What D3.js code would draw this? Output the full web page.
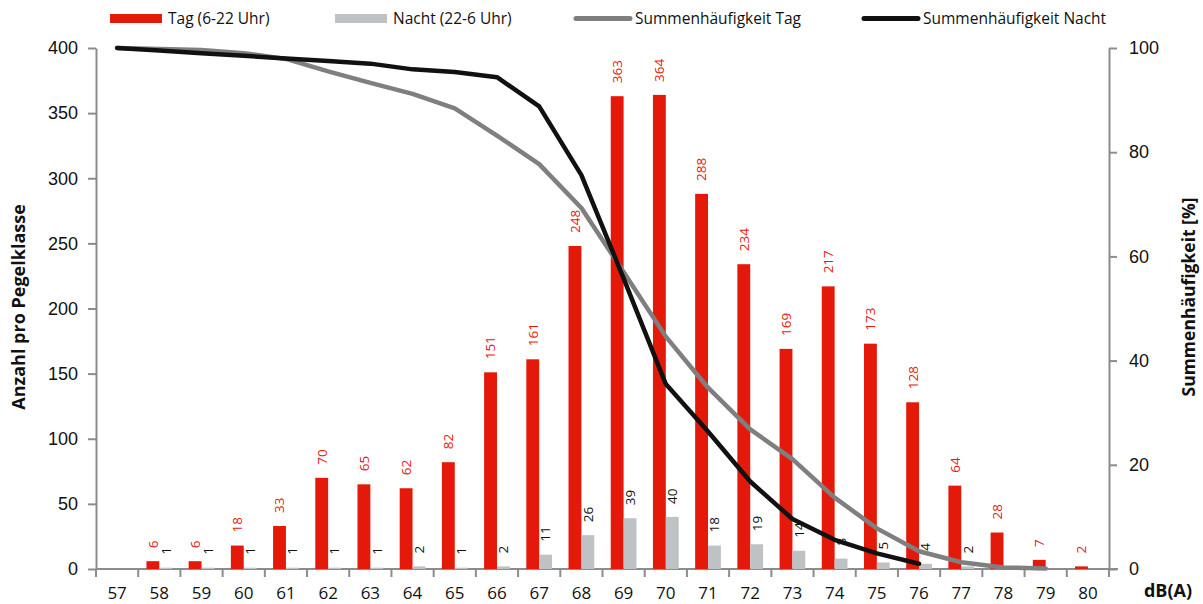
<!DOCTYPE html>
<html><head><meta charset="utf-8">
<script src="https://cdn.jsdelivr.net/npm/d3@7"></script>
<style>
html,body{margin:0;padding:0;background:#fff;}
svg{display:block;font-family:"Open Sans","Liberation Sans",sans-serif;}
</style></head>
<body>
<svg id="c" width="1203" height="604"></svg>
<script>
// ---- data ----
const categories = ["57","58","59","60","61","62","63","64","65","66","67","68","69","70","71","72","73","74","75","76","77","78","79","80"];
const tagValues   = [null,6,6,18,33,70,65,62,82,151,161,248,363,364,288,234,169,217,173,128,64,28,7,2];
const nachtValues = [null,1,1,1,1,1,1,2,1,2,11,26,39,40,18,19,14,8,5,4,2,null,null,null];
const sumTag   = [100,99.8,99.6,99.0,97.9,95.5,93.3,91.2,88.4,83.2,77.7,69.3,57.0,44.6,34.8,26.8,21.1,13.7,7.8,3.4,1.3,0.3,0.1];
const sumNacht = [100,99.5,99.0,98.5,98.0,97.5,97.0,95.9,95.4,94.4,88.8,75.6,55.8,35.5,26.4,16.8,9.6,5.6,3.0,1.0];
const leftTicks  = [0,50,100,150,200,250,300,350,400];
const rightTicks = [0,20,40,60,80,100];
const legendLabels = ["Tag (6-22 Uhr)","Nacht (22-6 Uhr)","Summenhäufigkeit Tag","Summenhäufigkeit Nacht"];

const C_RED = "#e5190a", C_BAR_GRAY = "#bec2c4", C_LINE_GRAY = "#7f7f7f", C_BLACK = "#111111", C_AXIS = "#8c8c8c";

const svg = d3.select("#c");
const X0 = 96, X1 = 1109, Y0 = 569, Y1 = 48;

const x = d3.scaleBand().domain(categories).range([X0, X1]).padding(0);
const xi = d3.scaleBand().domain(["t","n"]).range([0, x.bandwidth()]).paddingInner(0).paddingOuter(0.64);
const yL = d3.scaleLinear().domain([0,400]).range([Y0, Y1]);
const yR = d3.scaleLinear().domain([0,100]).range([Y0, Y1]);

// ---- axes ----
const axisStyle = g => {
  g.selectAll(".domain").attr("stroke", C_AXIS).attr("stroke-width", 2);
  g.selectAll(".tick line").attr("stroke", C_AXIS).attr("stroke-width", 2);
  g.selectAll(".tick text").attr("fill", "#111").attr("font-size", 18);
};
svg.append("g").attr("transform", `translate(${X0},0)`)
  .call(d3.axisLeft(yL).tickValues(leftTicks).tickSize(8).tickSizeOuter(0).tickPadding(10))
  .call(axisStyle);
svg.append("g").attr("transform", `translate(${X1},0)`)
  .call(d3.axisRight(yR).tickValues(rightTicks).tickSize(8).tickSizeOuter(0).tickPadding(12))
  .call(axisStyle);

// bottom axis: ticks at band boundaries, labels centered in band
const xa = svg.append("g").attr("class","xaxis");
xa.append("line").attr("x1", X0).attr("x2", X1 + 9).attr("y1", Y0).attr("y2", Y0)
  .attr("stroke", C_AXIS).attr("stroke-width", 2);
const bounds = categories.map(c => x(c)).concat([X1]);
xa.selectAll("line.tk").data(bounds).join("line").attr("class","tk")
  .attr("x1", d => d).attr("x2", d => d).attr("y1", Y0).attr("y2", Y0 + 8)
  .attr("stroke", C_AXIS).attr("stroke-width", 2);
xa.selectAll("text").data(categories).join("text")
  .attr("x", d => x(d) + x.bandwidth()/2).attr("y", 598.5)
  .attr("text-anchor","middle").attr("font-size",17).attr("fill","#111").text(d => d);

// ---- bars ----
const rows = categories.map((c,i) => ({c, t: tagValues[i], n: nachtValues[i]}));
const g = svg.append("g");
g.selectAll("rect.t").data(rows.filter(d => d.t != null)).join("rect").attr("class","t")
  .attr("x", d => x(d.c) + xi("t")).attr("width", xi.bandwidth())
  .attr("y", d => yL(d.t)).attr("height", d => Y0 - yL(d.t)).attr("fill", C_RED);
g.selectAll("rect.n").data(rows.filter(d => d.n != null)).join("rect").attr("class","n")
  .attr("x", d => x(d.c) + xi("n")).attr("width", xi.bandwidth())
  .attr("y", d => yL(d.n)).attr("height", d => Y0 - yL(d.n)).attr("fill", C_BAR_GRAY);

// bar labels (rotated)
const lbl = (sel, key, color) => sel
  .attr("transform", d => `translate(${x(d.c) + xi(key) + xi.bandwidth()/2},${yL(d[key]) - 13}) rotate(-90)`)
  .attr("text-anchor","start").attr("dy","0.36em").attr("font-size",13.5).attr("fill",color)
  .text(d => d[key]);
g.selectAll("text.tl").data(rows.filter(d => d.t != null)).join("text").attr("class","tl").call(lbl, "t", C_RED);
g.selectAll("text.nl").data(rows.filter(d => d.n != null)).join("text").attr("class","nl").call(lbl, "n", "#111");

// ---- lines ----
const line = d3.line().x(d => x(d.c) + x.bandwidth()/2).y(d => yR(d.v)).curve(d3.curveLinear);
svg.append("path").datum(sumTag.map((v,i) => ({c: categories[i], v})))
  .attr("d", line).attr("fill","none").attr("stroke", C_LINE_GRAY).attr("stroke-width", 4.5)
  .attr("stroke-linejoin","round").attr("stroke-linecap","round");
svg.append("path").datum(sumNacht.map((v,i) => ({c: categories[i], v})))
  .attr("d", line).attr("fill","none").attr("stroke", C_BLACK).attr("stroke-width", 4.5)
  .attr("stroke-linejoin","round").attr("stroke-linecap","round");

// ---- axis titles ----
svg.append("text").attr("transform","translate(25,307) rotate(-90)").attr("text-anchor","middle")
  .attr("font-size",18).attr("font-weight","bold").attr("fill","#111").text("Anzahl pro Pegelklasse");
svg.append("text").attr("transform","translate(1195,297) rotate(-90)").attr("text-anchor","middle")
  .attr("font-size",17.5).attr("font-weight","bold").attr("fill","#111").text("Summenhäufigkeit [%]");
svg.append("text").attr("x",1192).attr("y",597).attr("text-anchor","end")
  .attr("font-size",18).attr("font-weight","bold").attr("fill","#111").text("dB(A)");

// ---- legend ----
const legX = [110, 335, 574, 862];
const lg = svg.append("g");
lg.append("rect").attr("x", legX[0]).attr("y", 14).attr("width", 52).attr("height", 9).attr("fill", C_RED);
lg.append("rect").attr("x", legX[1]).attr("y", 14).attr("width", 52).attr("height", 9).attr("fill", C_BAR_GRAY);
lg.append("line").attr("x1", legX[2]+2).attr("x2", legX[2]+56).attr("y1",18.5).attr("y2",18.5)
  .attr("stroke", C_LINE_GRAY).attr("stroke-width",5).attr("stroke-linecap","round");
lg.append("line").attr("x1", legX[3]+2).attr("x2", legX[3]+56).attr("y1",18.5).attr("y2",18.5)
  .attr("stroke", C_BLACK).attr("stroke-width",5).attr("stroke-linecap","round");
lg.selectAll("text").data(legendLabels).join("text")
  .attr("x", (d,i) => legX[i] + (i < 2 ? 58 : 61)).attr("y", 24)
  .attr("font-size",15.5).attr("fill","#111").text(d => d);
</script>
</body></html>
